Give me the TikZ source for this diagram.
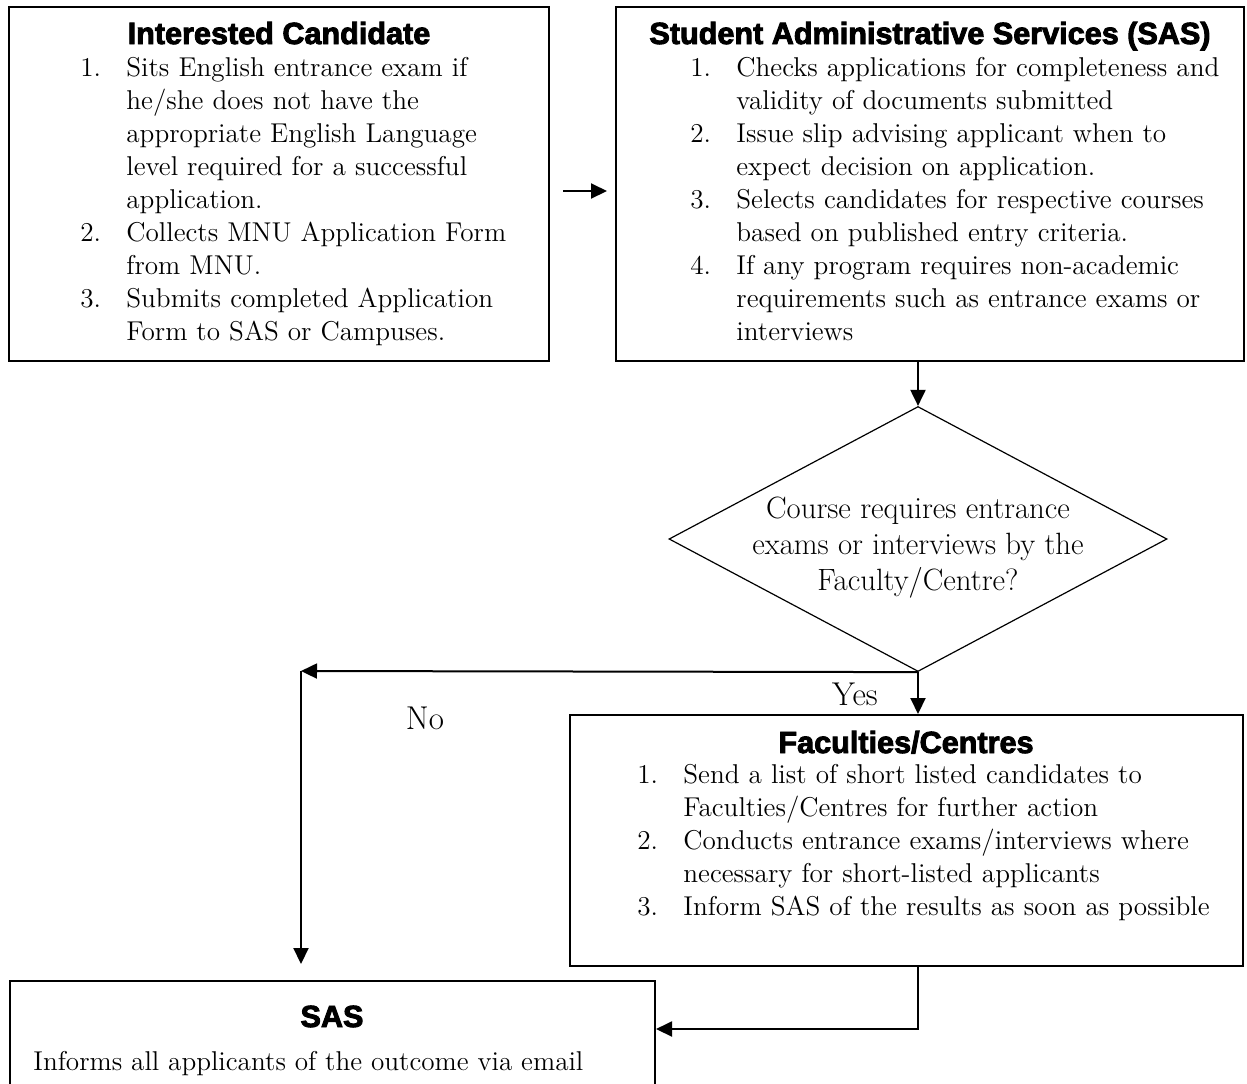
\documentclass[tikz,border=0pt]{standalone}
\usepackage{fontspec}
\newfontfamily\headfont[BoldFeatures={FakeBold=3}]{Liberation Sans}
\usetikzlibrary{shapes.geometric,arrows.meta}

\newcommand{\numitem}[2]{\par\hangindent=23pt\hangafter=1\noindent\makebox[23pt][l]{#1}#2\par}

\begin{document}
\begin{tikzpicture}
  [x=0.5pt,y=-0.5pt,
   box/.style={draw,line width=1pt,rectangle,inner sep=0pt},
   head/.style={font=\headfont\bfseries\fontsize{15.3}{18}\selectfont,anchor=base,inner sep=0pt},
   txt/.style={font=\fontsize{13.6}{16.5}\selectfont,align=left,anchor=north west,inner sep=0pt},
   arrow/.style={line width=1pt,-{Triangle[length=8pt,width=7.5pt]}}]
  \path[use as bounding box,clip] (0,0) rectangle (1247,1083);
  % boxes
  \node[box,minimum width=270pt,minimum height=177pt] (cand) at (279,184) {};
  \node[box,minimum width=314pt,minimum height=177pt] (sas) at (930,184) {};
  \node[diamond,draw,line width=0.6pt,inner sep=0pt,minimum width=249pt,minimum height=132.5pt] (dec) at (918,539) {};
  \node[box,minimum width=336.5pt,minimum height=125.5pt] (fac) at (906.5,840.5) {};
  \node[box,minimum width=322.5pt,minimum height=69.5pt] (out) at (332.5,1050.5) {};
  % titles
  \node[head] (candtitle) at (279,44) {Interested Candidate};
  \node[head] (sastitle) at (930,44) {Student Administrative Services (SAS)};
  \node[head] (factitle) at (906,753) {Faculties/Centres};
  \node[head] (outtitle) at (332,1027) {SAS};
  % texts
  \node[txt,text width=235pt] (candlist) at (80,43) {%
    \numitem{1.}{Sits English entrance exam if\newline he/she does not have the\newline appropriate English Language\newline level required for a successful\newline application.}
    \numitem{2.}{Collects MNU Application Form\newline from MNU.}
    \numitem{3.}{Submits completed Application\newline Form to SAS or Campuses.}};
  \node[txt,text width=277pt] (saslist) at (690,43) {%
    \numitem{1.}{Checks applications for completeness and\newline validity of documents submitted}
    \numitem{2.}{Issue slip advising applicant when to\newline expect decision on application.}
    \numitem{3.}{Selects candidates for respective courses\newline based on published entry criteria.}
    \numitem{4.}{If any program requires non-academic\newline requirements such as entrance exams or\newline interviews}};
  \node[txt,font=\fontsize{15.4}{18}\selectfont,align=center,anchor=center] (dectxt) at (918,548)
    {Course requires entrance\\exams or interviews by the\\Faculty/Centre?};
  \node[txt,text width=303pt] (faclist) at (637,750) {%
    \numitem{1.}{Send a list of short listed candidates to\newline Faculties/Centres for further action}
    \numitem{2.}{Conducts entrance exams/interviews where\newline necessary for short-listed applicants}
    \numitem{3.}{Inform SAS of the results as soon as possible}};
  \node[txt,anchor=base west] (outtxt) at (33,1070) {Informs all applicants of the outcome via email};
  \node[txt,font=\fontsize{16.5}{18}\selectfont,anchor=center] (yes) at (855,694) {Yes};
  \node[txt,font=\fontsize{16.5}{18}\selectfont,anchor=center] (no) at (425,718) {No};
  % connectors
  \coordinate (nocorner) at (301,671);
  \coordinate (join) at (918,1029);
  \draw[arrow] ([xshift=6.5pt,yshift=-3.5pt]cand.east) -- ([xshift=-4pt,yshift=-3.5pt]sas.west);
  \draw[arrow] (sas.south -| dec.north) -- (dec.north);
  \draw[arrow] (dec.south) -- (fac.north -| dec.south);
  \draw[arrow] (dec.south) -- (nocorner);
  \draw[arrow] (nocorner) -- ([yshift=8pt]nocorner |- out.north);
  \draw[arrow] (fac.south -| join) -- (join) -- (join -| out.east);
\end{tikzpicture}
\end{document}
